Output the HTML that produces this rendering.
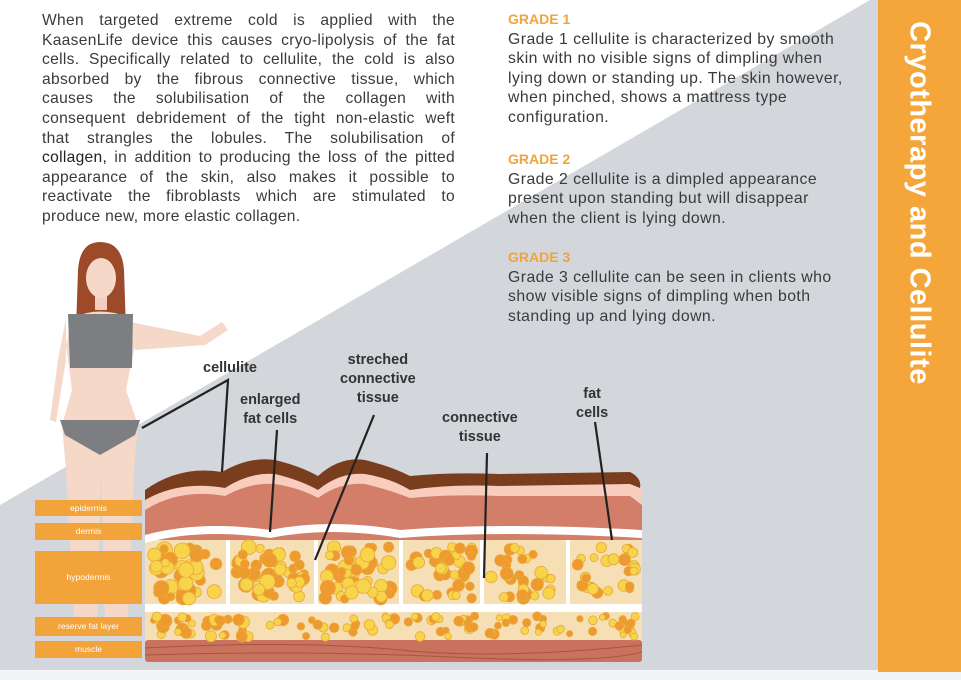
<!DOCTYPE html>
<html><head><meta charset="utf-8"><style>
html,body{margin:0;padding:0}
body{width:961px;height:680px;position:relative;overflow:hidden;background:#fff;font-family:"Liberation Sans",sans-serif}
#bg{position:absolute;left:0;top:0}
.p{position:absolute;left:42px;top:11px;width:413px;font-size:15.6px;letter-spacing:0.3px;line-height:19.6px;color:#3a3a3a}
.p div{text-align:justify;text-align-last:justify;white-space:nowrap;overflow:visible;height:19.6px}
.p div.l{text-align-last:left}
.r{position:absolute;left:508px;font-size:15.8px;letter-spacing:0.45px;line-height:19.6px;color:#3a3a3a;white-space:nowrap}
.h{color:#f2a33a;font-weight:bold;font-size:14px;letter-spacing:0}
.side{position:absolute;left:878px;top:0;width:83px;height:672px;background:#f4a63a}
.side span{position:absolute;left:41px;top:203px;transform:translate(-50%,-50%) rotate(90deg);white-space:nowrap;color:#fff;font-weight:bold;font-size:29px;letter-spacing:0.5px}
.lab{position:absolute;font-weight:bold;font-size:14.5px;color:#333;text-align:center;line-height:19px}
.box{position:absolute;left:35px;width:107px;background:#f2a33a;color:#fff;font-size:8.5px;text-align:center}
</style></head><body>
<svg id="bg" width="961" height="680">
<polygon points="0,505 870,0 878,0 878,670 0,670" fill="#d3d6da"/>
<rect x="0" y="670" width="961" height="10" fill="#f3f4f6"/>
<g>
<path d="M78,270 Q80,242 100,242 Q122,242 124,270 L126,330 L76,330 Z" fill="#9c4a2a"/>
<rect x="95" y="290" width="12" height="20" fill="#f3cdbd"/>
<ellipse cx="101" cy="278" rx="15" ry="20" fill="#f6d8c9"/>
<path d="M84,262 Q100,245 118,262 L118,255 Q100,238 84,255Z" fill="#9c4a2a"/>
<path d="M72,318 Q100,305 130,318 L135,345 L126,390 L138,425 L134,470 L128,620 L105,620 L101,470 L97,620 L74,620 L66,470 L62,425 L72,390 L66,345 Z" fill="#f6d8c9"/>
<path d="M130,322 L200,336 L222,322 L228,330 L205,345 L135,350Z" fill="#f6d8c9"/>
<path d="M66,318 L58,360 L50,420 L56,422 L66,360Z" fill="#f6d8c9"/>
<path d="M68,314 L133,314 L132,368 L100,368 L70,368 Z" fill="#7d7e82"/>
<path d="M60,420 L140,420 L135,435 L100,455 L65,435Z" fill="#7d7e82"/>
</g>
<rect x="145" y="600" width="497" height="62" rx="5" fill="#f6dfb4"/>
<rect x="145" y="640" width="497" height="22" rx="3" fill="#c9735e"/>
<path d="M145,648 Q300,640 400,650 T642,645" stroke="#a85440" fill="none"/>
<path d="M145,655 Q300,650 450,657 T642,652" stroke="#a85440" fill="none"/>
<rect x="145" y="530" width="497" height="75" fill="#f6dfb4"/>
<path d="M145,500 Q180,478 225,485 Q250,470 275,474 Q300,480 318,488 Q340,470 365,474 Q390,480 410,488 Q450,482 500,484 L630,484 Q642,488 642,500 L642,540 L145,540Z" fill="#d37e68"/>
<path d="M145,535 Q200,520 270,530 Q330,518 400,530 Q500,522 642,530 L642,538 Q500,530 400,538 Q330,526 270,538 Q200,528 145,543Z" fill="#fff"/>
<path d="M145,492 Q180,468 225,476 Q250,460 275,462 Q300,468 318,478 Q340,460 365,462 Q390,470 410,478 Q450,474 500,476 L630,476 Q642,480 642,492 L642,505 L630,496 L500,496 Q450,494 410,498 Q390,490 365,484 Q340,482 318,498 Q300,488 275,484 Q250,482 225,496 Q180,488 145,510Z" fill="#f8cdbd"/>
<path d="M145,490 Q180,465 222,472 Q250,456 275,460 Q300,466 318,476 Q340,456 365,460 Q390,466 410,476 Q450,472 500,474 L630,472 Q642,478 640,488 L630,484 L500,486 Q450,484 410,490 Q390,478 365,474 Q340,472 318,490 Q300,480 275,474 Q250,472 225,488 Q180,480 145,500Z" fill="#7a3e1e"/>
<rect x="145" y="604" width="497" height="8" fill="#fff"/>
<g fill="#fff"><rect x="226" y="540" width="4" height="64"/><rect x="314" y="540" width="4" height="64"/><rect x="399" y="540" width="4" height="64"/><rect x="480" y="540" width="4" height="64"/><rect x="566" y="540" width="4" height="64"/></g>
<g id="fat"></g>
<g stroke="#222" stroke-width="2.2" fill="none">
<polyline points="142,428 228,380 222,472"/>
<line x1="277" y1="430" x2="270" y2="532"/>
<line x1="374" y1="415" x2="315" y2="560"/>
<line x1="487" y1="453" x2="484" y2="578"/>
<line x1="595" y1="422" x2="612" y2="540"/>
</g>
</svg>
<div class="p">
<div>When targeted extreme cold is applied with the</div>
<div>KaasenLife device this causes cryo-lipolysis of the fat</div>
<div>cells. Specifically related to cellulite, the cold is also</div>
<div>absorbed by the fibrous connective tissue, which</div>
<div>causes the solubilisation of the collagen with</div>
<div>consequent debridement of the tight non-elastic weft</div>
<div>that strangles the lobules. The solubilisation of</div>
<div><span style="color:#222">collagen,</span> in addition to producing the loss of the pitted</div>
<div>appearance of the skin, also makes it possible to</div>
<div>reactivate the fibroblasts which are stimulated to</div>
<div class="l">produce new, more elastic collagen.</div>
</div>
<div class="r" style="top:10px"><div class="h">GRADE 1</div>Grade 1 cellulite is characterized by smooth<br>skin with no visible signs of dimpling when<br>lying down or standing up. The skin however,<br>when pinched, shows a mattress type<br>configuration.</div>
<div class="r" style="top:150px"><div class="h">GRADE 2</div>Grade 2 cellulite is a dimpled appearance<br>present upon standing but will disappear<br>when the client is lying down.</div>
<div class="r" style="top:248px"><div class="h">GRADE 3</div>Grade 3 cellulite can be seen in clients who<br>show visible signs of dimpling when both<br>standing up and lying down.</div>
<div class="side"><span>Cryotherapy and Cellulite</span></div>
<div class="lab" style="left:203px;top:359px">cellulite</div>
<div class="lab" style="left:240px;top:391px">enlarged<br>fat cells</div>
<div class="lab" style="left:340px;top:351px">streched<br>connective<br>tissue</div>
<div class="lab" style="left:442px;top:409px">connective<br>tissue</div>
<div class="lab" style="left:576px;top:385px">fat<br>cells</div>
<div class="box" style="top:500px;height:16px;line-height:16px">epidermis</div>
<div class="box" style="top:523px;height:17px;line-height:17px">dermis</div>
<div class="box" style="top:551px;height:53px;line-height:53px">hypodermis</div>
<div class="box" style="top:617px;height:19px;line-height:19px">reserve fat layer</div>
<div class="box" style="top:641px;height:17px;line-height:17px">muscle</div>
<script>
var g=document.getElementById('fat'),s=7,h='';
function r(){s=(s*9301+49297)%233280;return s/233280;}
var cols=[[148,224,1],[232,312,1],[320,397,.9],[405,478,.7],[486,564,.6],[572,640,.5]];
cols.forEach(function(c){var n=Math.round(50*c[2]);for(var i=0;i<n;i++){var x=c[0]+5+r()*(c[1]-c[0]-10),y=547+r()*52,rr=3+r()*4*c[2]+1;var o=r()<.5;h+='<circle cx="'+x.toFixed(1)+'" cy="'+y.toFixed(1)+'" r="'+rr.toFixed(1)+'" fill="'+(o?'#ee9a2e':'#f7d44a')+'" stroke="#e8a83a" stroke-width="0.8"/>';}});
for(var i=0;i<110;i++){var x=150+r()*488,y=616+r()*22,rr=3+r()*4*(1-(x-150)/700);h+='<circle cx="'+x.toFixed(1)+'" cy="'+y.toFixed(1)+'" r="'+rr.toFixed(1)+'" fill="'+(r()<.5?'#ee9a2e':'#f7d44a')+'" stroke="#e8a83a" stroke-width="0.8"/>';}
g.innerHTML=h;
</script>
</body></html>
